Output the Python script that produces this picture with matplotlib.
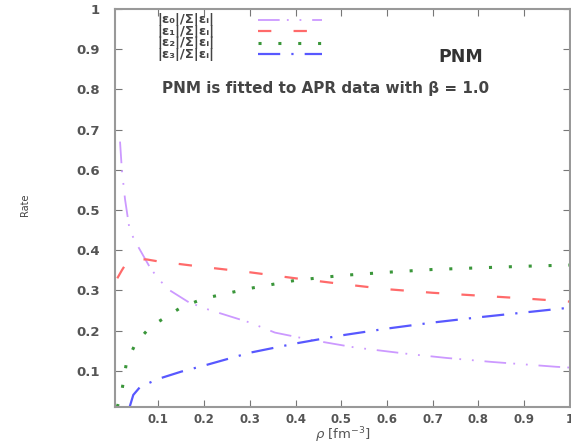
import matplotlib
matplotlib.use("Agg")
import matplotlib.pyplot as plt

# density rho [fm^-3] and the four rates
rho_e0 = [0.016, 0.02, 0.027, 0.037, 0.05, 0.06, 0.08, 0.10, 0.125, 0.167, 0.21,
          0.30, 0.355, 0.433, 0.53, 0.646, 0.73, 0.83, 0.97, 1.0]
rate_e0 = [0.67, 0.60, 0.526, 0.45, 0.42, 0.40, 0.36, 0.328, 0.30, 0.27, 0.252,
           0.22, 0.195, 0.177, 0.158, 0.142, 0.132, 0.122, 0.11, 0.108]

rho_e1 = [0.01, 0.02, 0.03, 0.05, 0.074, 0.1, 0.2, 0.3, 0.4, 0.5, 0.6, 0.7, 0.8, 0.9, 1.0]
rate_e1 = [0.33, 0.35, 0.368, 0.377, 0.377, 0.372, 0.358, 0.345, 0.33, 0.316,
           0.303, 0.294, 0.287, 0.28, 0.272]

rho_e2 = [0.01, 0.015, 0.02, 0.03, 0.05, 0.075, 0.1, 0.15, 0.2, 0.3, 0.4, 0.5,
          0.6, 0.7, 0.8, 0.9, 1.0]
rate_e2 = [0.01, 0.03, 0.05, 0.12, 0.168, 0.20, 0.222, 0.258, 0.28, 0.305, 0.325,
           0.337, 0.345, 0.352, 0.356, 0.36, 0.363]

rho_e3 = [0.037, 0.045, 0.06, 0.1, 0.15, 0.2, 0.3, 0.4, 0.5, 0.6, 0.7, 0.8, 0.9, 1.0]
rate_e3 = [0.01, 0.04, 0.06, 0.08, 0.098, 0.113, 0.145, 0.168, 0.188, 0.205,
           0.22, 0.233, 0.245, 0.257]

labels = ["|ε₀|/Σ|εᵢ|", "|ε₁|/Σ|εᵢ|", "|ε₂|/Σ|εᵢ|", "|ε₃|/Σ|εᵢ|"]
colors = ["#cc99ff", "#ff6a6a", "#3a963a", "#5858ff"]

tick_vals = [0.1, 0.2, 0.3, 0.4, 0.5, 0.6, 0.7, 0.8, 0.9, 1.0]
tick_labels = ["0.1", "0.2", "0.3", "0.4", "0.5", "0.6", "0.7", "0.8", "0.9", "1"]

fig = plt.figure(figsize=(5.71, 4.45), dpi=100)
ax = fig.add_axes([0.2014, 0.0854, 0.7966, 0.8946])

styles = [dict(lw=1.3, linestyle=(0, (12, 4, 1, 6, 1, 6))),
          dict(lw=1.6, linestyle=(0, (6, 10))),
          dict(lw=2.2, linestyle=(0, (1, 5.5))),
          dict(lw=1.6, linestyle=(0, (10, 5, 1, 5)))]

series = [(rho_e0, rate_e0), (rho_e1, rate_e1), (rho_e2, rate_e2), (rho_e3, rate_e3)]
for (x, y), c, st in zip(series, colors, styles):
    ax.plot(x, y, color=c, **st)

ax.set_xlim(0.005, 0.995)
ax.set_ylim(0.01, 1.0)
ax.set_xticks(tick_vals)
ax.set_xticklabels(tick_labels)
ax.set_yticks(tick_vals)
ax.set_yticklabels(tick_labels)
ax.tick_params(direction="in", top=True, right=True, length=5, color="#777777",
               labelcolor="#555555")
ax.tick_params(axis="x", labelsize=8.5, pad=4)
ax.tick_params(axis="y", labelsize=9.5, pad=11)
for lab in ax.get_xticklabels() + ax.get_yticklabels():
    lab.set_fontweight("bold")
for s in ax.spines.values():
    s.set_color("#999999")
    s.set_linewidth(1.5)

ax.set_xlabel(r"$\rho$ [fm$^{-3}$]", fontsize=9.5, color="#555555", va="center")
ax.xaxis.set_label_coords(0.5, -0.072)
ax.set_ylabel("Rate", fontsize=7, color="#444444", va="center")
ax.yaxis.set_label_coords(-0.198, 0.508)

# key drawn by hand, gnuplot style (label then sample)
row_y = [0.973, 0.944, 0.915, 0.886]
for lab, c, st, yy in zip(labels, colors, styles, row_y):
    ax.text(0.094, yy, lab, transform=ax.transAxes, fontsize=9.5, fontweight="bold",
            color="#444444", va="center", ha="left")
    ax.plot([0.314, 0.455], [yy, yy], transform=ax.transAxes, color=c, **st)

ax.text(0.760, 0.88, "PNM", transform=ax.transAxes, fontsize=12.5,
        fontweight="bold", color="#333333", va="center", ha="center")
ax.text(0.104, 0.80, "PNM is fitted to APR data with β = 1.0", transform=ax.transAxes,
        fontsize=11, fontweight="bold", color="#444444", va="center")

fig.savefig("out.png", dpi=100)
